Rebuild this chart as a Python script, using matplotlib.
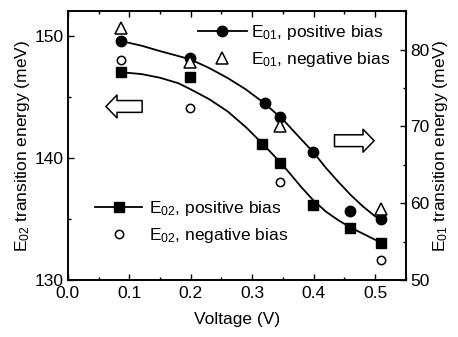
import matplotlib
matplotlib.use("Agg")
import matplotlib.pyplot as plt
from matplotlib.lines import Line2D
from matplotlib.ticker import MultipleLocator

plt.rcParams['font.family'] = ['Liberation Sans', 'DejaVu Sans']
plt.rcParams['font.size'] = 12.5
plt.rcParams['mathtext.fontset'] = 'custom'
plt.rcParams['mathtext.rm'] = 'Liberation Sans'
plt.rcParams['mathtext.it'] = 'Liberation Sans:italic'
plt.rcParams['mathtext.default'] = 'regular'

# ---- data ----
V_E01_pos = [0.087, 0.199, 0.321, 0.346, 0.399, 0.459, 0.509]
E01_pos = [81.1, 78.85, 73.0, 71.2, 66.65, 59.0, 58.0]
V_E01_neg = [0.087, 0.199, 0.346, 0.509]
E01_neg = [82.8, 78.4, 70.1, 59.2]
V_E02_pos = [0.087, 0.199, 0.316, 0.346, 0.399, 0.459, 0.509]
E02_pos = [147.0, 146.57, 141.1, 139.6, 136.1, 134.26, 133.07]
V_E02_neg = [0.087, 0.199, 0.346, 0.509]
E02_neg = [148.0, 144.05, 138.0, 131.6]

# fitted guide curves
V_fit = [0.087, 0.12, 0.15, 0.18, 0.20, 0.23, 0.26, 0.29, 0.32, 0.35,
         0.38, 0.40, 0.42, 0.44, 0.46, 0.48, 0.50, 0.51]
E01_fit = [81.1, 80.5, 79.8, 79.15, 78.7, 77.6, 76.3, 74.8, 73.0, 70.9,
           68.3, 66.6, 64.6, 62.8, 61.1, 59.6, 58.3, 57.9]
E02_fit = [147.0, 146.85, 146.55, 146.1, 145.6, 144.8, 143.8, 142.5, 141.0, 139.4,
           137.6, 136.5, 135.6, 134.9, 134.3, 133.8, 133.3, 133.1]

x_ticks = [0.0, 0.1, 0.2, 0.3, 0.4, 0.5]
left_ticks = [130, 140, 150]
right_ticks = [50, 60, 70, 80]

fig = plt.figure(figsize=(4.58, 3.37), dpi=100)
ax = fig.add_axes([0.148, 0.169, 0.886 - 0.148, 0.967 - 0.169])
ax2 = ax.twinx()

lw = 1.3
ax.plot(V_fit, E02_fit, color='black', lw=lw)
ax.plot(V_E02_pos, E02_pos, ls='none', marker='s', ms=7, color='black')
ax.plot(V_E02_neg, E02_neg, ls='none', marker='o', ms=6, mfc='white', mec='black', mew=1.1)

ax2.plot(V_fit, E01_fit, color='black', lw=lw)
ax2.plot(V_E01_pos, E01_pos, ls='none', marker='o', ms=7.5, color='black')
ax2.plot(V_E01_neg, E01_neg, ls='none', marker='^', ms=8, mfc='white', mec='black', mew=1.1)

ax.set_xlim(0, 0.55)
ax.set_ylim(130, 152)
ax2.set_ylim(50, 85)
ax.set_xticks(x_ticks)
ax.set_xticklabels([f"{t:.1f}" for t in x_ticks])
ax.xaxis.set_minor_locator(MultipleLocator(0.05))
ax.set_yticks(left_ticks)
ax.yaxis.set_minor_locator(MultipleLocator(5))
ax2.set_yticks(right_ticks)
ax2.yaxis.set_minor_locator(MultipleLocator(5))

ax.tick_params(which='both', direction='in', top=True, right=False, width=1.0)
ax.tick_params(which='major', length=4.5)
ax.tick_params(which='minor', length=2.5)
ax.tick_params(axis='x', pad=4)
ax.tick_params(axis='y', pad=3)
ax2.tick_params(which='both', direction='in', width=1.0, pad=3)
ax2.tick_params(which='major', length=4.5)
ax2.tick_params(which='minor', length=2.5)

for a in (ax, ax2):
    for s in a.spines.values():
        s.set_linewidth(1.2)

ax.set_xlabel('Voltage (V)', labelpad=8)
ax.set_ylabel('E$_{02}$ transition energy (meV)', labelpad=2)
ax2.set_ylabel('E$_{01}$ transition energy (meV)', rotation=90, labelpad=1)

# hollow arrows pointing to the relevant axis
arr = dict(arrowstyle='simple,head_length=0.8,head_width=1.65,tail_width=0.85',
           fc='white', ec='black', lw=1.1, mutation_scale=10, shrinkA=0, shrinkB=0)
ax.annotate('', xy=(0.062, 144.2), xytext=(0.121, 144.2), arrowprops=arr)
ax.annotate('', xy=(0.4985, 141.4), xytext=(0.434, 141.4), arrowprops=arr)

h1 = Line2D([], [], color='black', lw=lw, marker='o', ms=7.5)
h2 = Line2D([], [], ls='none', marker='^', ms=8, mfc='white', mec='black', mew=1.1)
h3 = Line2D([], [], color='black', lw=lw, marker='s', ms=7)
h4 = Line2D([], [], ls='none', marker='o', ms=6, mfc='white', mec='black', mew=1.1)

leg1 = ax2.legend([h1, h2], ['E$_{01}$, positive bias', 'E$_{01}$, negative bias'],
                  loc='upper left', bbox_to_anchor=(0.385, 0.955), frameon=False,
                  borderpad=0, borderaxespad=0, handlelength=2.8, handletextpad=0.25,
                  labelspacing=0.45, fontsize=12.5)
ax2.add_artist(leg1)
leg2 = ax2.legend([h3, h4], ['E$_{02}$, positive bias', 'E$_{02}$, negative bias'],
                  loc='upper left', bbox_to_anchor=(0.081, 0.30), frameon=False,
                  borderpad=0, borderaxespad=0, handlelength=2.7, handletextpad=0.4,
                  labelspacing=0.45, fontsize=12.5)

fig.savefig('out.png', dpi=100)
